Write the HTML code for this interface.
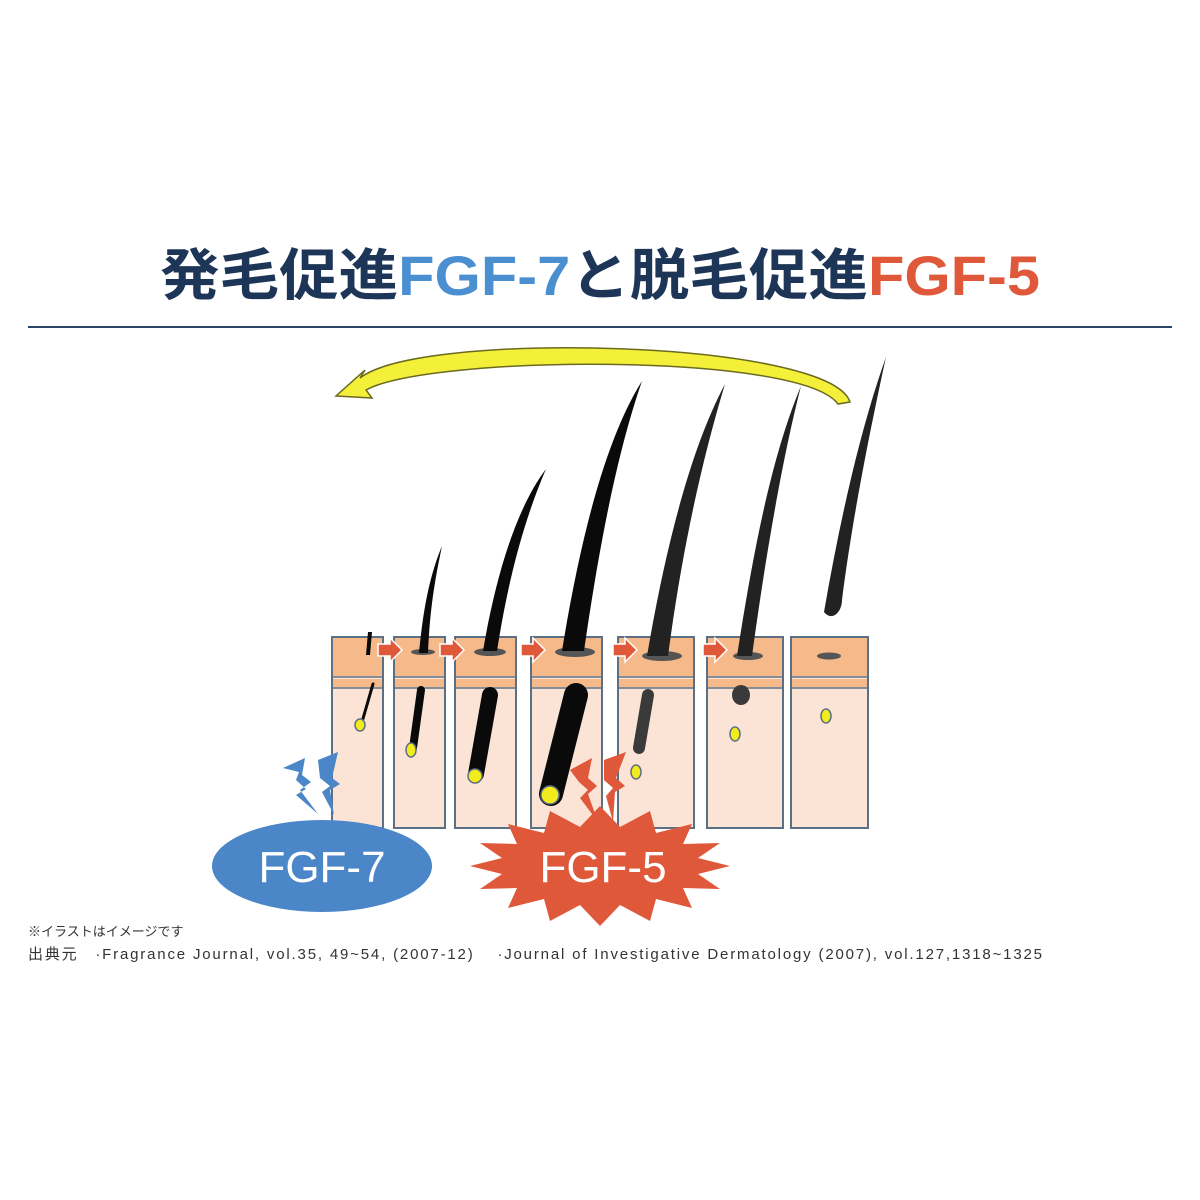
<!DOCTYPE html>
<html><head><meta charset="utf-8"><style>
body{margin:0;background:#fff;width:1200px;height:1200px;overflow:hidden}
svg{display:block}
</style></head><body>
<svg width="1200" height="1200" viewBox="0 0 1200 1200" xmlns="http://www.w3.org/2000/svg">
<text x="160" y="295" textLength="880" lengthAdjust="spacingAndGlyphs" font-family="Liberation Sans, Noto Sans CJK JP, sans-serif" font-weight="bold" font-size="56"><tspan fill="#1d3557">発毛促進</tspan><tspan fill="#4a8fd0">FGF-7</tspan><tspan fill="#1d3557">と脱毛促進</tspan><tspan fill="#e0583a">FGF-5</tspan></text>
<rect x="28" y="326" width="1144" height="2" fill="#2a4466"/>
<path d="M850,402 C830,340 420,330 360,378 L365,370 L336,396 L372,398 L366,390 C430,355 800,352 838,404 Z" fill="#f4f03a" stroke="#6a6a20" stroke-width="1.5"/>
<g stroke="#5c7085" stroke-width="2">
<rect x="332" y="637" width="51" height="191" fill="#fbe4d6"/>
<rect x="394" y="637" width="51" height="191" fill="#fbe4d6"/>
<rect x="455" y="637" width="61" height="191" fill="#fbe4d6"/>
<rect x="531" y="637" width="71" height="191" fill="#fbe4d6"/>
<rect x="618" y="637" width="76" height="191" fill="#fbe4d6"/>
<rect x="707" y="637" width="76" height="191" fill="#fbe4d6"/>
<rect x="791" y="637" width="77" height="191" fill="#fbe4d6"/>
</g>
<g fill="#f5b98a">
<rect x="333" y="638" width="49" height="38"/><rect x="395" y="638" width="49" height="38"/><rect x="456" y="638" width="59" height="38"/><rect x="532" y="638" width="69" height="38"/><rect x="619" y="638" width="74" height="38"/><rect x="708" y="638" width="74" height="38"/><rect x="792" y="638" width="75" height="38"/>
<rect x="333" y="679" width="49" height="8"/><rect x="395" y="679" width="49" height="8"/><rect x="456" y="679" width="59" height="8"/><rect x="532" y="679" width="69" height="8"/><rect x="619" y="679" width="74" height="8"/><rect x="708" y="679" width="74" height="8"/><rect x="792" y="679" width="75" height="8"/>
</g>
<g stroke="#5c7085" stroke-width="1.5">
<path d="M332 677H383M394 677H445M455 677H516M531 677H602M618 677H694M707 677H783M791 677H868"/>
<path d="M332 688H383M394 688H445M455 688H516M531 688H602M618 688H694M707 688H783M791 688H868"/>
</g>
<g fill="#e0583a" stroke="#fff" stroke-width="1.5">
<path d="M378,644 h12 v-6 l12,12 -12,12 v-6 h-12z"/>
<path d="M440,644 h12 v-6 l12,12 -12,12 v-6 h-12z"/>
<path d="M521,644 h12 v-6 l12,12 -12,12 v-6 h-12z"/>
<path d="M613,644 h12 v-6 l12,12 -12,12 v-6 h-12z"/>
<path d="M703,644 h12 v-6 l12,12 -12,12 v-6 h-12z"/>
</g>
<g fill="#555">
<ellipse cx="423" cy="652" rx="12" ry="3"/><ellipse cx="490" cy="652" rx="16" ry="4"/><ellipse cx="575" cy="652" rx="20" ry="5"/><ellipse cx="662" cy="656" rx="20" ry="5"/><ellipse cx="748" cy="656" rx="15" ry="4"/><ellipse cx="829" cy="656" rx="12" ry="3.5"/>
</g>
<g fill="#0a0a0a">
<path d="M366,655 L368,632 L372,632 L370,655Z"/>
<path d="M419,653 C424,600 432,570 442,546 C436,575 430,605 428,653Z"/>
<path d="M483,651 C495,580 515,510 546,469 C524,520 508,580 497,651Z"/>
<path d="M562,651 C580,540 605,440 642,381 C618,450 600,540 584,651Z"/>
</g>
<g fill="#222">
<path d="M647,656 C665,550 690,450 725,384 C702,460 682,550 668,656Z"/>
<path d="M737,656 C752,560 770,460 801,386 C782,460 765,560 752,656Z"/>
<path d="M824,612 C840,520 860,430 886,357 C870,430 852,520 842,600 C842,612 832,622 824,612Z"/>
</g>
<g stroke="#0a0a0a" stroke-linecap="round" fill="none">
<path d="M373,684 L362,722" stroke-width="3"/>
<path d="M421,690 L413,748" stroke-width="8"/>
<path d="M490,695 L476,774" stroke-width="16"/>
<path d="M576,695 L551,794" stroke-width="24"/>
<path d="M648,695 L639,748" stroke-width="12" stroke="#3a3a3a"/>
</g>
<ellipse cx="741" cy="695" rx="9" ry="10" fill="#3a3a3a"/>
<g fill="#f2ec1c" stroke="#5c7085" stroke-width="1.5">
<ellipse cx="360" cy="725" rx="5" ry="6"/>
<ellipse cx="411" cy="750" rx="5" ry="7"/>
<ellipse cx="475" cy="776" rx="7" ry="7"/>
<ellipse cx="550" cy="795" rx="9" ry="9"/>
<ellipse cx="636" cy="772" rx="5" ry="7"/>
<ellipse cx="735" cy="734" rx="5" ry="7"/>
<ellipse cx="826" cy="716" rx="5" ry="7"/>
</g>
<g fill="#4a86c8">
<path d="M283,768 L305,758 L302,775 L311,782 L300,790 L318,814 L296,795 L306,789 L296,780 L299,772Z"/>
<path d="M318,760 L338,752 L332,778 L340,784 L330,790 L334,815 L322,792 L330,786 L320,778Z"/>
</g>
<ellipse cx="322" cy="866" rx="110" ry="46" fill="#4a86c8"/>
<text x="322" y="882" text-anchor="middle" font-family="Liberation Sans, sans-serif" font-size="44" fill="#fff">FGF-7</text>
<g fill="#e0583a">
<path d="M570,770 L592,758 L588,778 L597,786 L588,794 L598,822 L580,798 L588,790 L579,782Z"/>
<path d="M604,760 L626,752 L616,778 L625,786 L615,792 L613,822 L606,796 L613,788 L604,780Z"/>
</g>
<polygon fill="#e0583a" points="730,866 698,874 720,889 683,888 692,908 656,899 650,921 620,905 600,926 580,905 550,921 544,899 508,908 517,888 480,889 502,874 470,866 502,858 480,843 517,844 508,824 544,833 550,811 580,827 600,806 620,827 650,811 656,833 692,824 683,844 720,843 698,858"/>
<text x="603" y="882" text-anchor="middle" font-family="Liberation Sans, sans-serif" font-size="44" fill="#fff">FGF-5</text>
<text x="28" y="936" font-family="Liberation Sans, Noto Sans CJK JP, sans-serif" font-size="13" fill="#333">※イラストはイメージです</text>
<text x="28" y="959" font-family="Liberation Sans, Noto Sans CJK JP, sans-serif" font-size="15" fill="#333" textLength="1014">出典元　·Fragrance Journal, vol.35, 49~54, (2007-12)　 ·Journal of Investigative Dermatology (2007), vol.127,1318~1325</text>
</svg>
</body></html>
